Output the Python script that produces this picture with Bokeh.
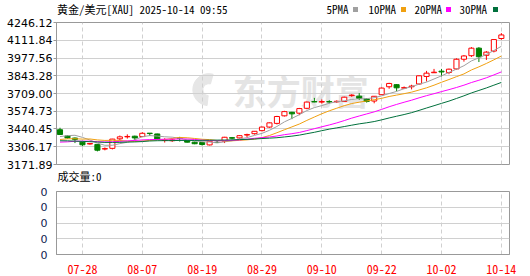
from bokeh.plotting import figure
from bokeh.layouts import column
from bokeh.models import ColumnDataSource, FixedTicker, Range1d, Title
from bokeh.embed import file_html
from bokeh.resources import INLINE
from bokeh.core.properties import value

# ---------------- data ----------------
dates = ["07-23", "07-24", "07-25", "07-28", "07-29", "07-30", "07-31",
         "08-01", "08-04", "08-05", "08-06", "08-07", "08-08", "08-11", "08-12", "08-13", "08-14",
         "08-15", "08-18", "08-19", "08-20", "08-21", "08-22", "08-25", "08-26", "08-27", "08-28", "08-29",
         "09-01", "09-02", "09-03", "09-04", "09-05", "09-08", "09-09", "09-10", "09-11", "09-12",
         "09-15", "09-16", "09-17", "09-18", "09-19", "09-22", "09-23", "09-24", "09-25", "09-26",
         "09-29", "09-30", "10-01", "10-02", "10-03", "10-06", "10-07", "10-08", "10-09", "10-10",
         "10-13", "10-14"]
opens = [3435, 3388, 3372, 3341, 3327, 3324, 3289, 3294, 3366, 3381, 3386, 3383, 3409, 3403, 3354,
         3352, 3372, 3353, 3341, 3338, 3320, 3340, 3349, 3375, 3373, 3395, 3405, 3428, 3455, 3483,
         3540, 3567, 3560, 3597, 3648, 3644, 3648, 3646, 3649, 3693, 3689, 3668, 3652, 3700, 3760,
         3776, 3750, 3760, 3781, 3838, 3866, 3878, 3868, 3895, 3968, 3995, 4052, 3998, 4030, 4125]
highs = [3450, 3392, 3376, 3344, 3334, 3326, 3301, 3366, 3391, 3400, 3390, 3416, 3410, 3405, 3371,
         3368, 3381, 3357, 3345, 3340, 3350, 3352, 3381, 3380, 3393, 3405, 3425, 3458, 3490, 3540,
         3578, 3570, 3600, 3648, 3676, 3664, 3658, 3657, 3685, 3704, 3712, 3672, 3690, 3755, 3790,
         3780, 3762, 3775, 3845, 3880, 3895, 3895, 3897, 3975, 4000, 4060, 4060, 4030, 4120, 4166]
lows = [3395, 3368, 3334, 3311, 3322, 3271, 3279, 3286, 3354, 3368, 3356, 3379, 3388, 3360, 3338,
        3343, 3346, 3338, 3325, 3315, 3316, 3335, 3334, 3362, 3368, 3380, 3398, 3422, 3450, 3475,
        3535, 3515, 3545, 3590, 3643, 3632, 3634, 3638, 3645, 3684, 3660, 3640, 3635, 3698, 3745,
        3726, 3742, 3740, 3775, 3800, 3864, 3838, 3855, 3890, 3950, 3985, 3947, 3963, 4020, 4115]
closes = [3399, 3373, 3362, 3321, 3331, 3280, 3292, 3364, 3381, 3384, 3373, 3408, 3406, 3364, 3357,
          3358, 3369, 3341, 3329, 3323, 3348, 3338, 3378, 3371, 3390, 3398, 3423, 3455, 3487, 3535,
          3572, 3555, 3595, 3644, 3645, 3648, 3645, 3650, 3681, 3697, 3672, 3649, 3688, 3750, 3785,
          3752, 3753, 3765, 3843, 3863, 3870, 3872, 3893, 3968, 3993, 4052, 3987, 4022, 4117, 4152]

ma5 = [3383, 3390, 3393, 3377, 3357.2, 3333.4, 3317.2, 3317.6, 3329.6, 3340.2, 3358.8, 3382, 3390.4,
       3387, 3381.6, 3378.6, 3370.8, 3357.8, 3350.8, 3344, 3342, 3335.8, 3343.2, 3351.6, 3365, 3375,
       3392, 3407.4, 3430.6, 3459.6, 3494.4, 3520.8, 3548.8, 3580.2, 3602.2, 3617.4, 3635.4, 3646.4,
       3653.8, 3664.2, 3669, 3669.8, 3677.4, 3691.2, 3708.8, 3724.8, 3745.6, 3761, 3779.6, 3795.2,
       3818.8, 3842.6, 3868.2, 3893.2, 3919.2, 3955.6, 3978.6, 4004.4, 4034.2, 4066]
ma10 = [3361, 3366, 3367, 3364, 3365, 3358, 3354, 3355, 3354, 3348.7, 3346.1, 3349.6, 3354.0, 3358.3,
        3360.9, 3368.7, 3376.4, 3374.1, 3368.9, 3362.8, 3360.3, 3353.3, 3350.5, 3351.2, 3354.5, 3358.5,
        3363.9, 3375.3, 3391.1, 3412.3, 3434.7, 3456.4, 3478.1, 3505.4, 3530.9, 3555.9, 3578.1, 3597.6,
        3617.0, 3633.2, 3643.2, 3652.6, 3661.9, 3672.5, 3686.5, 3696.9, 3707.7, 3719.2, 3735.4, 3752.0,
        3771.8, 3794.1, 3814.6, 3836.4, 3857.2, 3887.2, 3910.6, 3936.3, 3963.7, 3992.6]
ma20 = [3341.2, 3343.4, 3347.8, 3348.7, 3348.4, 3344.5, 3342.8, 3344.2, 3346.5, 3350.6, 3353.6, 3357.8,
        3360.3, 3361.4, 3363.0, 3363.6, 3365.1, 3364.6, 3361.2, 3355.8, 3353.2, 3351.5, 3352.3, 3354.8,
        3357.7, 3363.6, 3370.2, 3374.7, 3380.0, 3387.6, 3397.5, 3404.9, 3414.3, 3428.3, 3442.7, 3457.2,
        3471.0, 3486.5, 3504.1, 3522.8, 3538.9, 3554.5, 3570.0, 3588.9, 3608.7, 3626.4, 3642.9, 3658.4,
        3676.2, 3692.6, 3707.5, 3723.4, 3738.3, 3754.5, 3771.9, 3792.1, 3809.2, 3827.8, 3849.6, 3872.3]
ma30 = [3351.5, 3351.0, 3348.7, 3346.6, 3344.7, 3341.7, 3339.1, 3339.0, 3339.4, 3341.4, 3342.8, 3345.5,
        3349.9, 3351.9, 3352.5, 3352.6, 3354.0, 3354.1, 3353.9, 3354.7, 3355.8, 3356.3, 3357.0, 3358.0,
        3360.2, 3361.9, 3364.7, 3368.2, 3371.2, 3374.6, 3380.4, 3386.4, 3394.2, 3405.0, 3415.4, 3427.7,
        3439.5, 3449.0, 3459.0, 3469.4, 3479.4, 3487.4, 3496.8, 3509.7, 3524.0, 3537.1, 3549.9, 3564.0,
        3581.2, 3599.2, 3616.6, 3634.4, 3651.5, 3671.4, 3691.5, 3713.3, 3732.1, 3751.0, 3772.0, 3792.6]

y_ticks = [3171.89, 3306.17, 3440.45, 3574.73, 3709.00, 3843.28, 3977.56, 4111.84, 4246.12]
y_tick_labels = ["3171.89", "3306.17", "3440.45", "3574.73", "3709.00", "3843.28", "3977.56",
                 "4111.84", "4246.12"]
x_tick_labels = ["07-28", "08-07", "08-19", "08-29", "09-10", "09-22", "10-02", "10-14"]
vol_ticks = [0, 1, 2, 3, 4]
vol_tick_labels = ["0", "0", "0", "0", "0"]
volume_total = "0"
title_text = "黄金/美元[XAU] 2025-10-14 09:55"
ma_names = ["5PMA", "10PMA", "20PMA", "30PMA"]

# ---------------- styling ----------------
RED = "#ff0000"
GREEN = "#008000"
MA_COLORS = ["#a0a0a0", "#f0a010", "#ff00ff", "#00703c"]
GRID = "#d0d0d0"
BORDER = "#999999"
MONO = "Noto Sans Mono CJK SC, Noto Sans CJK SC, monospace"
W = 530
FRAME_L, FRAME_R = 56, 509

idx = list(range(len(dates)))
x_tick_pos = [dates.index(d) for d in x_tick_labels]

# ---------------- header row (title + legend) ----------------
HEAD_H = 16
h = figure(width=W, height=HEAD_H, x_range=Range1d(FRAME_L, FRAME_R), y_range=Range1d(HEAD_H, 0),
           output_backend="svg", toolbar_location=None, x_axis_location=None,
           y_axis_location=None, min_border=0, min_border_left=FRAME_L,
           min_border_right=W - FRAME_R)
h.outline_line_color = None
h.grid.visible = False
h.background_fill_color = "white"
h.border_fill_color = "white"
h.text(x=[56.5], y=[8.6], text=[title_text], text_font=value(MONO), text_font_size="11px",
       text_color="#000000", text_baseline="middle", text_align="left")
legend_x = [326, 368, 414, 459]
square_x = [355, 403, 448, 495]
h.text(x=legend_x, y=[8.6] * 4, text=ma_names, text_font=value(MONO), text_font_size="11px",
       text_color="#000000", text_baseline="middle", text_align="left")
h.rect(x=square_x, y=[9, 9, 9, 9], width=5, height=5, fill_color=MA_COLORS, line_color=None)

# ---------------- main chart ----------------
MAIN_BOTTOM = 184
p = figure(width=W, height=MAIN_BOTTOM - HEAD_H, x_range=Range1d(-0.468, 60.09),
           y_range=Range1d(y_ticks[0], y_ticks[-1]),
           output_backend="svg", toolbar_location=None, x_axis_location=None,
           min_border_left=FRAME_L, min_border_right=W - FRAME_R,
           min_border_top=22 - HEAD_H, min_border_bottom=MAIN_BOTTOM - 166)
p.outline_line_color = BORDER
p.background_fill_color = "white"
p.border_fill_color = "white"

p.yaxis.ticker = FixedTicker(ticks=y_ticks)
p.yaxis.major_label_overrides = {t: l for t, l in zip(y_ticks, y_tick_labels)}
p.yaxis.axis_line_color = BORDER
p.yaxis.major_tick_line_color = BORDER
p.yaxis.major_tick_out = 3
p.yaxis.major_tick_in = 0
p.yaxis.minor_tick_line_color = None
p.yaxis.major_label_standoff = 1
p.yaxis.major_label_text_font = "DejaVu Sans"
p.yaxis.major_label_text_font_size = "11px"
p.yaxis.major_label_text_color = "#000000"

p.ygrid.ticker = FixedTicker(ticks=y_ticks)
p.ygrid.grid_line_color = GRID
p.xgrid.ticker = FixedTicker(ticks=x_tick_pos)
p.xgrid.grid_line_color = GRID
p.xgrid.grid_line_dash = "4 3"

# caption of the volume panel, as a title under the price frame
p.add_layout(Title(text="成交量:" + volume_total, align="left", offset=1, standoff=2,
                   text_font=MONO, text_font_size="11px", text_font_style="normal",
                   text_color="#000000"), "below")

# watermark: logo swirl + wordmark, faint, under the data
p.annular_wedge(x=[19.9], y=[3738], inner_radius=6, outer_radius=16,
                inner_radius_units="screen", outer_radius_units="screen",
                start_angle=1.3, end_angle=4.6, color="#e6e6e6", level="underlay")
p.text(x=[23.1], y=[3731], text=["东方财富"], text_font=value("Noto Sans CJK SC"),
       text_font_style="bold", text_font_size="34px", text_color="#e4e4e4",
       text_baseline="middle", text_align="left", level="underlay")

# candles
up = [c >= o for o, c in zip(opens, closes)]
cols = [RED if u else GREEN for u in up]
src = ColumnDataSource(dict(x=idx, h=highs, l=lows, col=cols,
                            top=[max(o, c) for o, c in zip(opens, closes)],
                            bot=[min(o, c) for o, c in zip(opens, closes)],
                            fill=["white" if u else GREEN for u in up]))
p.segment(x0="x", y0="h", x1="x", y1="l", source=src, line_color="col", line_width=1)
p.vbar(x="x", top="top", bottom="bot", width=0.68, source=src, fill_color="fill",
       line_color="col", line_width=1)

for series, colr in zip([ma5, ma10, ma20, ma30], MA_COLORS):
    p.line(idx, series, line_color=colr, line_width=1)

# ---------------- volume panel ----------------
VOL_FRAME_TOP = 191
v = figure(width=W, height=276 - MAIN_BOTTOM, x_range=p.x_range, y_range=Range1d(0, 4),
           output_backend="svg", toolbar_location=None,
           min_border_left=FRAME_L, min_border_right=W - FRAME_R,
           min_border_top=VOL_FRAME_TOP - MAIN_BOTTOM, min_border_bottom=276 - 257)
v.outline_line_color = BORDER
v.background_fill_color = "white"
v.border_fill_color = "white"
v.yaxis.ticker = FixedTicker(ticks=vol_ticks)
v.yaxis.major_label_overrides = {t: l for t, l in zip(vol_ticks, vol_tick_labels)}
v.yaxis.axis_line_color = BORDER
v.yaxis.major_tick_line_color = None
v.yaxis.minor_tick_line_color = None
v.yaxis.major_label_standoff = 3
v.yaxis.major_label_text_font = "DejaVu Sans"
v.yaxis.major_label_text_font_size = "11px"
v.yaxis.major_label_text_color = "#102050"
v.xaxis.ticker = FixedTicker(ticks=x_tick_pos)
v.xaxis.major_label_overrides = {t: l for t, l in zip(x_tick_pos, x_tick_labels)}
v.xaxis.axis_line_color = BORDER
v.xaxis.major_tick_line_color = None
v.xaxis.minor_tick_line_color = None
v.xaxis.major_label_standoff = 4
v.xaxis.major_label_text_font = MONO
v.xaxis.major_label_text_font_size = "12px"
v.xaxis.major_label_text_color = RED
v.ygrid.ticker = FixedTicker(ticks=vol_ticks)
v.ygrid.grid_line_color = GRID
v.xgrid.ticker = FixedTicker(ticks=x_tick_pos)
v.xgrid.grid_line_color = GRID
v.xgrid.grid_line_dash = "4 3"
v.line(idx, [0] * len(idx), line_color=None)

layout = column(h, p, v, spacing=0)
open("out.html", "w").write(file_html(layout, INLINE))
